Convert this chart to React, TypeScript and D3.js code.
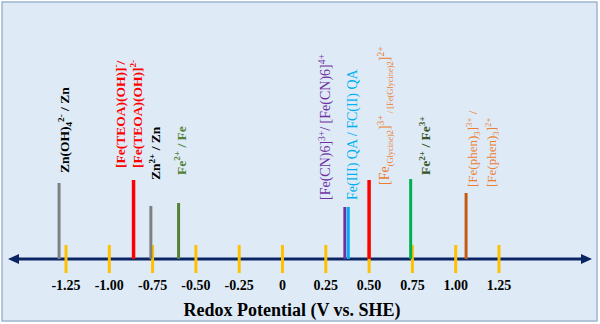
import React from 'react';
import * as d3 from 'd3';

// tick values along the potential axis
const tickValues = [-1.25, -1.0, -0.75, -0.5, -0.25, 0, 0.25, 0.5, 0.75, 1.0, 1.25];
const tickLabels = ['-1.25', '-1.00', '-0.75', '-0.50', '-0.25', '0', '0.25', '0.50', '0.75', '1.00', '1.25'];

// redox couples (potential in V vs. SHE)
const coupleNames = ['Zn(OH)4/Zn', 'Fe-TEOA', 'Zn2+/Zn', 'Fe2+/Fe', 'Fe(CN)6', 'Fe QA', 'Fe-Glycine', 'Fe2+/Fe3+', 'Fe(phen)3'];
const couplePotentials = [-1.29, -0.86, -0.76, -0.6, 0.36, 0.38, 0.5, 0.74, 1.06];
const stemLevels = [76, 79, 53, 56, 52, 52, 79, 80, 66];
const stemColors = ['#808080', '#FF0000', '#808080', '#538135', '#7030A0', '#00B0F0', '#FF0000', '#00B050', '#C55A11'];

type Seg = [string, string]; // [text, kind]

// label text for each couple, one or two lines
const coupleLabels: Seg[][][] = [
  [[['Zn(OH)', 'n'], ['4', 'sub'], ['2-', 'sup'], [' / Zn', 'n']]],
  [
    [['[Fe(TEOA)(OH)]', 'n'], ['-', 'sup'], ['/', 'n']],
    [['[Fe(TEOA)(OH)]', 'n'], ['2-', 'sup']],
  ],
  [[['Zn', 'n'], ['2+', 'sup'], [' / Zn', 'n']]],
  [[['Fe', 'n'], ['2+', 'sup'], [' / Fe', 'n']]],
  [[['[Fe(CN)6]', 'n'], ['3+', 'sup'], ['/ [Fe(CN)6]', 'n'], ['4+', 'sup']]],
  [[['Fe(III) QA / FC(II) QA', 'n']]],
  [[['[Fe', 'n'], ['(Glycine)2', 'small'], [']', 'n'], ['3+', 'sup'], [' / [Fe(Glycine)2', 'small'], [']', 'n'], ['2+', 'sup']]],
  [[['Fe', 'n'], ['2+', 'sup'], [' / Fe', 'n'], ['3+', 'sup']]],
  [
    [['[Fe(phen)', 'n'], ['3', 'sub'], [']', 'n'], ['3+', 'sup'], [' /', 'n']],
    [['[Fe(phen)', 'n'], ['3', 'sub'], [']', 'n'], ['2+', 'sup']],
  ],
];
const labelColors = ['#000000', '#FF0000', '#000000', '#548235', '#7030A0', '#00B0F0', '#ED7D31', '#375623', '#ED7D31'];

// label layout: baseline offsets from the stem (one per line), bottom end, font size, weight
const labelLayout = [
  { dx: [10], bottom: 173, size: 13.5, bold: true },
  { dx: [-9, 8], bottom: 168, size: 13.5, bold: true },
  { dx: [9], bottom: 180, size: 13.5, bold: true },
  { dx: [7], bottom: 175, size: 13.5, bold: true },
  { dx: [-15], bottom: 200, size: 14, bold: false },
  { dx: [9], bottom: 200, size: 14, bold: false },
  { dx: [20], bottom: 185, size: 14, bold: false },
  { dx: [19], bottom: 175, size: 13.5, bold: true },
  { dx: [11, 30], bottom: 187, size: 13, bold: false },
];

const W = 600;
const H = 324;
const axisY = 259;
const font = '"Liberation Serif", "Times New Roman", serif';

function RichLabel({ segs, x, y, size, bold, color }: { segs: Seg[]; x: number; y: number; size: number; bold: boolean; color: string }) {
  let shift = 0;
  return (
    <text
      transform={`translate(${x},${y}) rotate(-90)`}
      textAnchor="start"
      fontFamily={font}
      fontWeight={bold ? 'bold' : 'normal'}
      fontSize={size}
      fill={color}
    >
      {segs.map(([t, k], i) => {
        let s = 0;
        let fs = size;
        if (k === 'sup') { s = -size * 0.38; fs = size * 0.68; }
        if (k === 'sub') { s = size * 0.25; fs = size * 0.68; }
        if (k === 'small') { s = size * 0.25; fs = size * 0.6; }
        const dy = s - shift;
        shift = s;
        return (
          <tspan key={i} dy={dy} fontSize={fs} style={{ whiteSpace: 'pre' }}>
            {t}
          </tspan>
        );
      })}
    </text>
  );
}

export default function App() {
  const x = d3.scaleLinear().domain([-1.25, 1.25]).range([66, 499]);
  const stem = d3.scaleLinear().domain([0, 100]).range([axisY, axisY - 100]);

  return (
    <svg width={W} height={H} style={{ position: 'absolute', left: 0, top: 0, display: 'block' }}>
      <rect x={2} y={2} width={595} height={319} fill="#DEEBF7" stroke="#9FB5D0" strokeWidth={1.5} />

      {/* axis with arrows */}
      <line x1={14} x2={586} y1={axisY} y2={axisY} stroke="#0B2463" strokeWidth={3} />
      <polygon points={`8,${axisY} 19,${axisY - 5} 19,${axisY + 5}`} fill="#0B2463" />
      <polygon points={`592,${axisY} 581,${axisY - 5} 581,${axisY + 5}`} fill="#0B2463" />

      {/* yellow ticks and labels */}
      {tickValues.map((v, i) => (
        <g key={i}>
          <line x1={x(v)} x2={x(v)} y1={axisY - 14} y2={axisY + 14} stroke="#FFC000" strokeWidth={3} />
          <text x={x(v)} y={290} textAnchor="middle" fontFamily={font} fontWeight="bold" fontSize={14} fill="#000">
            {tickLabels[i]}
          </text>
        </g>
      ))}

      {/* potential stems */}
      {coupleNames.map((n, i) => (
        <line
          key={n}
          x1={x(couplePotentials[i])}
          x2={x(couplePotentials[i])}
          y1={axisY}
          y2={stem(stemLevels[i])}
          stroke={stemColors[i]}
          strokeWidth={stemColors[i] === '#FF0000' ? 3.5 : 3}
        />
      ))}

      {/* couple labels */}
      {coupleLabels.map((lines, i) =>
        lines.map((segs, j) => (
          <RichLabel
            key={`${i}-${j}`}
            segs={segs}
            x={x(couplePotentials[i]) + labelLayout[i].dx[j]}
            y={labelLayout[i].bottom}
            size={labelLayout[i].size}
            bold={labelLayout[i].bold}
            color={labelColors[i]}
          />
        ))
      )}

      <text x={292} y={316} textAnchor="middle" fontFamily={font} fontWeight="bold" fontSize={18} fill="#000">
        Redox Potential (V vs. SHE)
      </text>
    </svg>
  );
}
